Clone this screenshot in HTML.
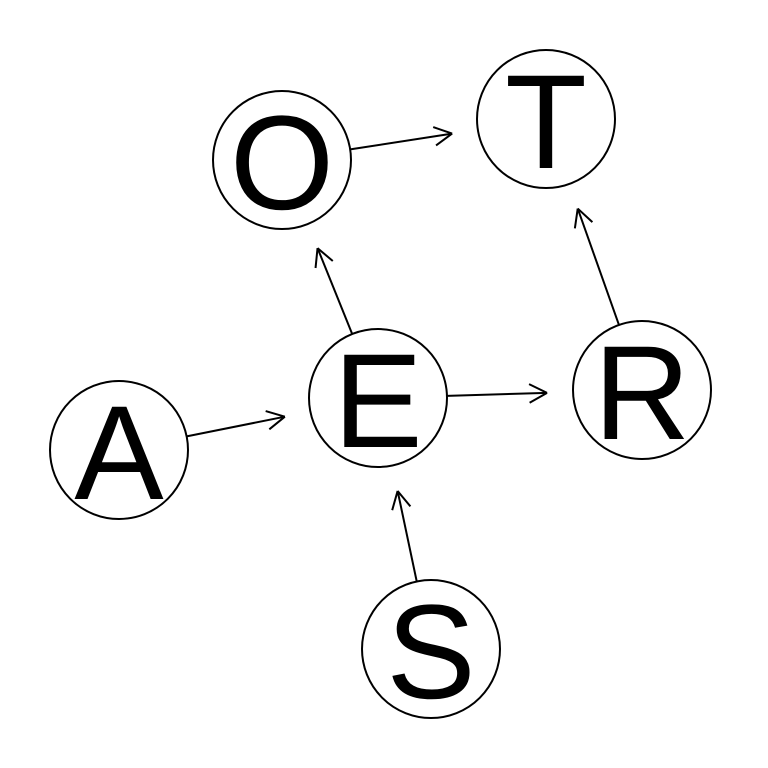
<!DOCTYPE html>
<html><head><meta charset="utf-8"><style>
html,body{margin:0;padding:0;background:#fff;}
svg{display:block;}
text{font-family:"Liberation Sans",sans-serif;}
</style></head><body>
<svg id="chart" width="768" height="768" viewBox="0 0 768 768" xmlns="http://www.w3.org/2000/svg"></svg>
<script>
const nodeNames = ["O","T","E","R","A","S"];
const nodeX = [282,546,378,642,119,431];
const nodeY = [160,119,398,390,450,649];
const edgeFrom = ["O","E","E","R","A","S"];
const edgeTo = ["T","O","R","T","E","E"];

const NS = "http://www.w3.org/2000/svg";
const svg = document.getElementById("chart");
const R = 69, GAP = 95, HEAD = 20, ANG = Math.PI/6.5;
function pos(n){const i=nodeNames.indexOf(n);return [nodeX[i],nodeY[i]];}
function line(x1,y1,x2,y2,g){
  const l=document.createElementNS(NS,"line");
  l.setAttribute("x1",x1);l.setAttribute("y1",y1);l.setAttribute("x2",x2);l.setAttribute("y2",y2);
  l.setAttribute("stroke","#000");l.setAttribute("stroke-width","2");
  g.appendChild(l);
}
for(let k=0;k<edgeFrom.length;k++){
  const [ax,ay]=pos(edgeFrom[k]), [bx,by]=pos(edgeTo[k]);
  const d=Math.hypot(bx-ax,by-ay), ux=(bx-ax)/d, uy=(by-ay)/d;
  const sx=ax+ux*R, sy=ay+uy*R, ex=bx-ux*GAP, ey=by-uy*GAP;
  const g=document.createElementNS(NS,"g");
  
  
  line(sx,sy,ex,ey,g);
  const a=Math.atan2(uy,ux);
  line(ex,ey,ex-HEAD*Math.cos(a-ANG),ey-HEAD*Math.sin(a-ANG),g);
  line(ex,ey,ex-HEAD*Math.cos(a+ANG),ey-HEAD*Math.sin(a+ANG),g);
  svg.appendChild(g);
}
for(let i=0;i<nodeNames.length;i++){
  const g=document.createElementNS(NS,"g");
  
  
  const c=document.createElementNS(NS,"circle");
  c.setAttribute("cx",nodeX[i]);c.setAttribute("cy",nodeY[i]);c.setAttribute("r",R);
  c.setAttribute("fill","none");c.setAttribute("stroke","#000");c.setAttribute("stroke-width","2");
  g.appendChild(c);
  const t=document.createElementNS(NS,"text");
  t.setAttribute("x",nodeX[i]);t.setAttribute("y",nodeY[i]+49);
  t.setAttribute("text-anchor","middle");t.setAttribute("font-size","134");
  t.textContent=nodeNames[i];
  g.appendChild(t);
  svg.appendChild(g);
}
</script>
</body></html>
